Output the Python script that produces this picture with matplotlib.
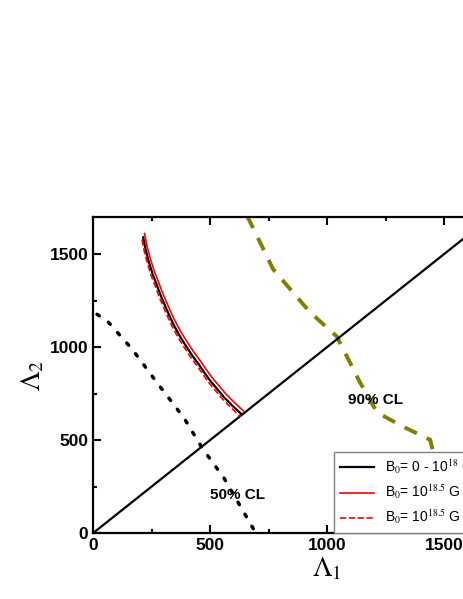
import matplotlib
matplotlib.use("Agg")
import matplotlib.pyplot as plt
from matplotlib.ticker import MultipleLocator

plt.rcParams['font.family'] = ['Liberation Sans', 'DejaVu Sans']
plt.rcParams['mathtext.fontset'] = 'stix'

# B0 = 0 - 1e18 G boundary (black)
curve_x = [214, 225, 240, 255, 272, 288, 305, 322, 342, 370, 400, 425, 450,
           475, 500, 530, 560, 597, 636]
curve_y = [1590, 1520, 1450, 1390, 1335, 1280, 1230, 1180, 1125, 1060, 1000,
           952, 910, 864, 820, 775, 730, 683, 637]
# B0 = 1e18.5 G solid (red) sits slightly outside
red_x = [x + 6 for x in curve_x]
red_y = [y + 20 for y in curve_y]
# B0 = 1e18.5 G dashed (red) slightly inside
redd_x = [x - 5 for x in curve_x]
redd_y = [y - 12 for y in curve_y]

diag = [0, 2000]

cl50_x = [17, 61, 168, 260, 389, 467, 560, 675, 695]
cl50_y = [1176, 1140, 987, 831, 618, 456, 295, 45, 0]

cl90_x = [658, 692, 769, 927, 1041, 1141, 1214, 1325, 1440, 1462, 1465]
cl90_y = [1705, 1619, 1419, 1187, 1058, 809, 648, 572, 502, 394, 0]

fig = plt.figure(figsize=(4.63, 5.99), dpi=100)
ax = fig.add_axes([0.201, 0.110, 1.011, 0.528])

ax.plot(cl50_x, cl50_y, color='black', linestyle=(0, (0.8, 3.2)), linewidth=2.5,
        dash_capstyle='round')
ax.plot(cl90_x, cl90_y, color='#808000', linestyle=(0, (3.5, 2.8)), linewidth=2.8)
ax.plot(diag, diag, color='black', linewidth=1.6)
ax.plot(red_x, red_y, color='red', linewidth=1.2)
l1, = ax.plot(curve_x, curve_y, color='black', linewidth=1.6)
ax.plot(redd_x, redd_y, color='red', linestyle='--', linewidth=1.2)
h2 = plt.Line2D([], [], color='red', linewidth=1.2)
h3 = plt.Line2D([], [], color='red', linestyle='--', linewidth=1.2)

ax.text(615, 205, '50% CL', fontsize=11, fontweight='bold', ha='center', va='center')
ax.text(1205, 718, '90% CL', fontsize=11, fontweight='bold', ha='center', va='center')

ax.set_xlim(0, 2000)
ax.set_ylim(0, 1700)
ax.xaxis.set_major_locator(MultipleLocator(500))
ax.xaxis.set_minor_locator(MultipleLocator(250))
ax.yaxis.set_major_locator(MultipleLocator(500))
ax.yaxis.set_minor_locator(MultipleLocator(250))
ax.tick_params(which='both', direction='in', top=True, right=True, width=1.5)
ax.tick_params(which='major', length=6, labelsize=12.5)
ax.tick_params(which='minor', length=3)
for lab in ax.get_xticklabels() + ax.get_yticklabels():
    lab.set_fontweight('bold')
for s in ax.spines.values():
    s.set_linewidth(1.6)

ax.set_xlabel(r'$\Lambda_1$', fontsize=20, labelpad=2)
ax.set_ylabel(r'$\Lambda_2$', fontsize=20, labelpad=2)

leg = ax.legend([l1, h2, h3],
                [r'B$_0$= 0 - 10$^{18}$ G (I)',
                 r'B$_0$= 10$^{18.5}$ G (II)',
                 r'B$_0$= 10$^{18.5}$ G (III)'],
                loc='lower left', bbox_to_anchor=(334 / 463, 66 / 599),
                bbox_transform=fig.transFigure, fontsize=10, fancybox=False,
                edgecolor='gray', handlelength=2.5, borderaxespad=0,
                labelspacing=0.4)
leg.get_frame().set_alpha(1)

fig.savefig('out.png', dpi=100)
